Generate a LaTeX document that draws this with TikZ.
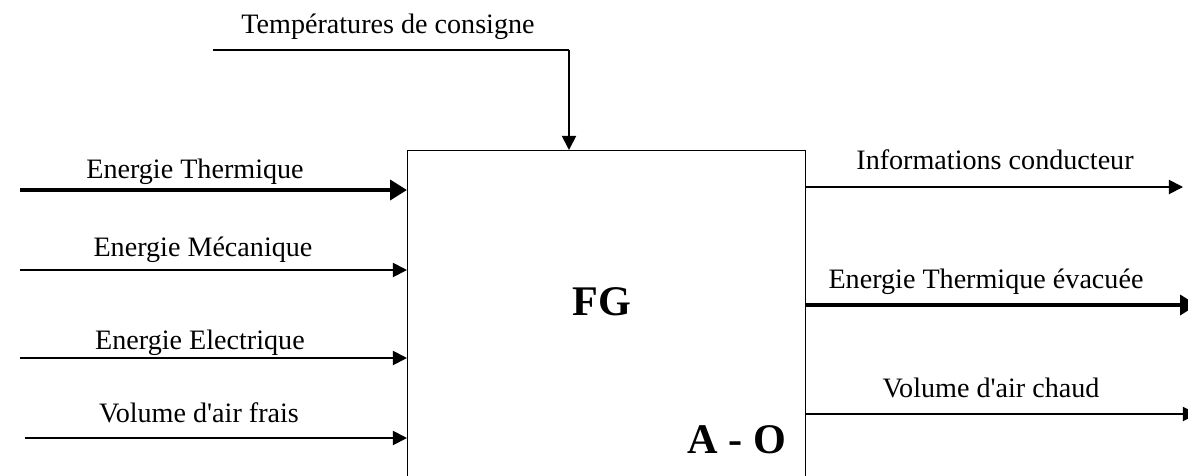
\documentclass[tikz,border=0pt]{standalone}
\usepackage{fontspec}
\setmainfont{Liberation Serif}
\usetikzlibrary{arrows.meta}

\tikzset{
  flux/.style={line width=1.3pt, -{Triangle[length=10pt,width=10pt]}},
  fluxfort/.style={line width=3pt, -{Triangle[length=12pt,width=14pt]}},
  etiquette/.style={font=\fontsize{20}{24}\selectfont, inner sep=0pt}
}

\begin{document}
\begin{tikzpicture}[x=0.025cm, y=-0.025cm]

        \useasboundingbox (0,0) rectangle (1188,475);

        % Boite fonction globale
        \node[draw, line width=1pt, anchor=north west, minimum width=398*0.025cm,
              minimum height=360*0.025cm, inner sep=0pt] (fg) at (407,150) {};
        \node[font=\bfseries\fontsize{30}{34}\selectfont] (titre) at (602,302) {FG};
        \node[font=\bfseries\fontsize{30}{34}\selectfont] (niveau) at (737,440) {A - O};

        % Consigne
        \node[etiquette] (consigne) at (388,27) {Températures de consigne};
        \coordinate (c0) at (213,50);
        \coordinate (c1) at (569,50);
        \draw[line width=1.8pt] (c0) -- (c1);
        \draw[flux] (c1) -- (c1 |- fg.north);

        % Entrees
        \node[etiquette] (lth) at (195,172) {Energie Thermique};
        \coordinate (eth) at (20,190);
        \draw[fluxfort] (eth) -- (eth -| fg.west);

        \node[etiquette] (lmec) at (203,250) {Energie Mécanique};
        \coordinate (emec) at (20,270);
        \draw[flux] (emec) -- (emec -| fg.west);

        \node[etiquette] (lel) at (200,343) {Energie Electrique};
        \coordinate (eel) at (20,358);
        \draw[flux] (eel) -- (eel -| fg.west);

        \node[etiquette] (lair) at (199,413) {Volume d\textquotesingle air frais};
        \coordinate (eair) at (25,438);
        \draw[flux] (eair) -- (eair -| fg.west);

        % Sorties
        \node[etiquette] (linfo) at (995,160) {Informations conducteur};
        \coordinate (sinfo) at (1183,187);
        \draw[flux] (sinfo -| fg.east) -- (sinfo);

        \node[etiquette] (lev) at (986,282) {Energie Thermique évacuée};
        \coordinate (sev) at (1197,305);
        \draw[fluxfort] (sev -| fg.east) -- (sev);

        \node[etiquette] (lch) at (991,388) {Volume d\textquotesingle air chaud};
        \coordinate (sch) at (1197,414);
        \draw[flux] (sch -| fg.east) -- (sch);

\end{tikzpicture}
\end{document}
